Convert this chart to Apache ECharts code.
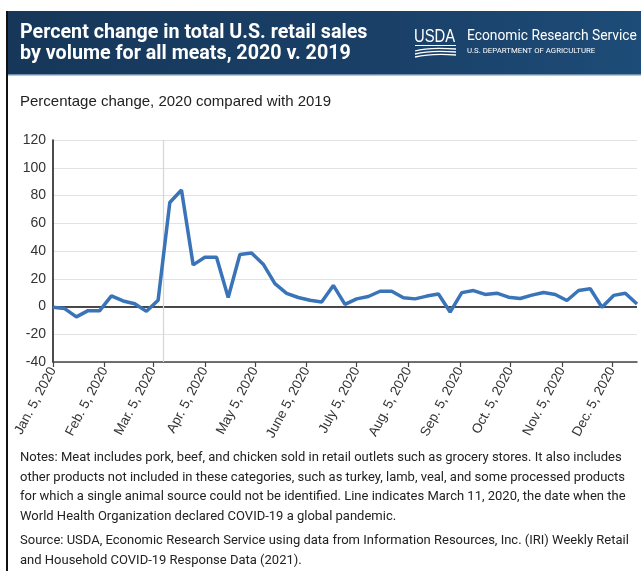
<!DOCTYPE html>
<html>
<head>
<meta charset="utf-8">
<script src="https://cdn.jsdelivr.net/npm/echarts@6/dist/echarts.min.js"></script>
<style>
html,body{margin:0;padding:0;background:#fff;}
#c{width:641px;height:571px;}
</style>
</head>
<body>
<div id="c"></div>
<script>
// ---- data ----
var weekDates = [
  "2020-01-05","2020-01-12","2020-01-19","2020-01-26",
  "2020-02-02","2020-02-09","2020-02-16","2020-02-23",
  "2020-03-01","2020-03-08","2020-03-15","2020-03-22","2020-03-29",
  "2020-04-05","2020-04-12","2020-04-19","2020-04-26",
  "2020-05-03","2020-05-10","2020-05-17","2020-05-24","2020-05-31",
  "2020-06-07","2020-06-14","2020-06-21","2020-06-28",
  "2020-07-05","2020-07-12","2020-07-19","2020-07-26",
  "2020-08-02","2020-08-09","2020-08-16","2020-08-23","2020-08-30",
  "2020-09-06","2020-09-13","2020-09-20","2020-09-27",
  "2020-10-04","2020-10-11","2020-10-18","2020-10-25",
  "2020-11-01","2020-11-08","2020-11-15","2020-11-22","2020-11-29",
  "2020-12-06","2020-12-13","2020-12-20"
];
var pctChange = [
  -0.5, -1.5, -7.5, -3, -3, 7.7, 4, 2, -3.5, 4.5,
  75, 84, 30, 35.5, 35.5, 6.5, 37.5, 38.5, 30.5, 16.5,
  9.5, 6.5, 4.5, 3.2, 15.2, 1.5, 5.5, 7.2, 11, 11,
  6.3, 5.5, 7.5, 9, -4, 10, 11.5, 8.7, 9.6, 6.7,
  5.8, 8.2, 10.1, 8.7, 4.3, 11.5, 12.8, -0.5, 8, 9.6,
  1.8
];
var tickDates = ["2020-01-05","2020-02-05","2020-03-05","2020-04-05","2020-05-05","2020-06-05",
  "2020-07-05","2020-08-05","2020-09-05","2020-10-05","2020-11-05","2020-12-05"];
var tickLabels = ["Jan. 5, 2020","Feb. 5, 2020","Mar. 5, 2020","Apr. 5, 2020","May 5, 2020","June 5, 2020",
  "July 5, 2020","Aug. 5, 2020","Sep. 5, 2020","Oct. 5, 2020","Nov. 5, 2020","Dec. 5, 2020"];
var pandemicDate = "2020-03-11";
var axisStart = "2020-01-05";
var axisEnd = "2020-12-20";

var title1 = "Percent change in total U.S. retail sales";
var title2 = "by volume for all meats, 2020 v. 2019";
var subtitle = "Percentage change, 2020 compared with 2019";
var noteLines = [
  "Notes: Meat includes pork, beef, and chicken sold in retail outlets such as grocery stores. It also includes",
  "other products not included in these categories, such as turkey, lamb, veal, and some processed products",
  "for which a single animal source could not be identified. Line indicates March 11, 2020, the date when the",
  "World Health Organization declared COVID-19 a global pandemic."
];
var sourceLines = [
  "Source: USDA, Economic Research Service using data from Information Resources, Inc. (IRI) Weekly Retail",
  "and Household COVID-19 Response Data (2021)."
];

// daily category axis scaffold
function pad(n){return n<10?'0'+n:''+n;}
var days = [];
(function(){
  var d = new Date(axisStart + "T00:00:00Z");
  var end = new Date(axisEnd + "T00:00:00Z");
  while (d <= end) {
    days.push(d.getUTCFullYear()+'-'+pad(d.getUTCMonth()+1)+'-'+pad(d.getUTCDate()));
    d = new Date(d.getTime() + 86400000);
  }
})();
var seriesData = weekDates.map(function(dt,i){return [dt, pctChange[i]];});
function isTick(idx, val){ return tickDates.indexOf(val) >= 0; }

var chart = echarts.init(document.getElementById('c'), null, {renderer:'canvas'});

var noteFont = '13px Roboto, "Noto Sans", sans-serif';
var graphics = [
  {type:'rect', shape:{x:7,y:11,width:634,height:64}, z:0,
   style:{fill:new echarts.graphic.LinearGradient(0,0,1,0.3,[{offset:0,color:'#163759'},{offset:0.6,color:'#1a4068'},{offset:1,color:'#1d4c78'}])}},
  {type:'rect', shape:{x:7,y:74,width:634,height:1.5}, style:{fill:'#6f8fb0'}},
  {type:'line', shape:{x1:7,y1:11,x2:7,y2:571}, style:{stroke:'#111',lineWidth:2}},
  {type:'text', style:{text:title1, x:20, y:33, font:'bold 19.7px Roboto, "Liberation Sans", sans-serif', fill:'#fff', textVerticalAlign:'middle'}},
  {type:'text', style:{text:title2, x:20, y:54, font:'bold 19.7px Roboto, "Liberation Sans", sans-serif', fill:'#fff', textVerticalAlign:'middle'}},
  {type:'text', x:414, y:37, scaleX:0.78, style:{text:'USDA', x:0, y:0, font:'19px "Liberation Sans", sans-serif', fill:'#fff', textVerticalAlign:'middle'}},
  {type:'line', shape:{x1:415,y1:45.5,x2:456,y2:45.5}, style:{stroke:'#fff',lineWidth:1}},
  {type:'bezierCurve', shape:{x1:415,y1:51,cpx1:428,cpy1:47,x2:456,y2:49}, style:{stroke:'#fff',lineWidth:1.3,fill:null}},
  {type:'bezierCurve', shape:{x1:415,y1:54,cpx1:430,cpy1:50,x2:456,y2:52}, style:{stroke:'#fff',lineWidth:1.3,fill:null}},
  {type:'bezierCurve', shape:{x1:415,y1:57,cpx1:432,cpy1:53,x2:456,y2:55}, style:{stroke:'#fff',lineWidth:1.3,fill:null}},
  {type:'text', style:{text:'Economic Research Service', x:467, y:37, font:'13.8px Roboto, "Liberation Sans", sans-serif', fill:'#fff', textVerticalAlign:'middle'}},
  {type:'text', style:{text:'U.S. DEPARTMENT OF AGRICULTURE', x:467, y:51, font:'7.8px Roboto, "Liberation Sans", sans-serif', fill:'#fff', textVerticalAlign:'middle'}},
  {type:'text', style:{text:subtitle, x:20, y:102, font:'15px "Liberation Sans", Arial, sans-serif', fill:'#222', textVerticalAlign:'middle'}}
];
var noteY = [458, 477.5, 497, 516.5];
var srcY = [541, 561];
noteLines.forEach(function(t,i){
  graphics.push({type:'text', style:{text:t, x:20, y:noteY[i], font:noteFont, fill:'#222', textVerticalAlign:'middle'}});
});
sourceLines.forEach(function(t,i){
  graphics.push({type:'text', style:{text:t, x:20, y:srcY[i], font:noteFont, fill:'#222', textVerticalAlign:'middle'}});
});

chart.setOption({
  animation:false,
  backgroundColor:'#fff',
  grid:{left:53, right:4, top:140, bottom:209, containLabel:false},
  xAxis:{
    type:'category', data:days, boundaryGap:false,
    axisLine:{show:true, onZero:false, lineStyle:{color:'#444', width:1.5}},
    axisTick:{show:true, interval:isTick, length:5, lineStyle:{color:'#444', width:1.2}},
    axisLabel:{interval:isTick, rotate:62, margin:6, color:'#333',
      fontFamily:'"Liberation Sans", Arial, sans-serif', fontSize:13.5,
      formatter:function(v){var i=tickDates.indexOf(v); return i>=0?tickLabels[i]:'';}},
    splitLine:{show:false}
  },
  yAxis:{
    type:'value', min:-40, max:120, interval:20,
    axisLine:{show:true, lineStyle:{color:'#111', width:1.5}},
    axisTick:{show:false},
    axisLabel:{color:'#333', fontFamily:'"Liberation Sans", Arial, sans-serif', fontSize:14, margin:7},
    splitLine:{lineStyle:{color:'#e2e2e2', width:1.2}}
  },
  series:[{
    type:'line', data:seriesData, showSymbol:false, symbol:'none',
    lineStyle:{color:'#3a74b8', width:3.5}, z:5,
    markLine:{silent:true, symbol:'none', label:{show:false}, animation:false,
      data:[
        {yAxis:0, lineStyle:{color:'#111', width:1.5, type:'solid'}},
        {xAxis:pandemicDate, lineStyle:{color:'#d6d6d6', width:1.2, type:'solid'}}
      ]}
  }],
  graphic:graphics
});
</script>
</body>
</html>
